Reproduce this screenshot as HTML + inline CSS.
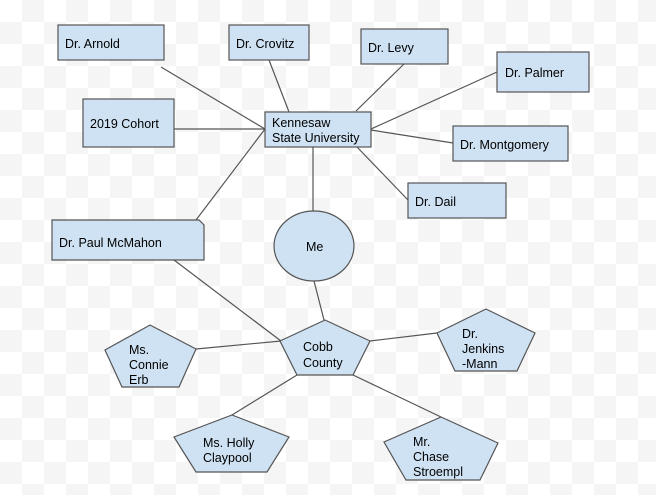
<!DOCTYPE html>
<html><head><meta charset="utf-8"><style>
html,body{margin:0;padding:0;}
body{width:656px;height:495px;overflow:hidden;background-color:#fff;
background-image:linear-gradient(45deg,#f5f5f5 25%,transparent 25%,transparent 75%,#f5f5f5 75%),linear-gradient(45deg,#f5f5f5 25%,transparent 25%,transparent 75%,#f5f5f5 75%);
background-size:44px 44px;background-position:0 0,22px 22px;}
svg{position:absolute;left:0;top:0;}
text{font-family:"Liberation Sans",Arial,sans-serif;font-size:12.5px;fill:#000;}
</style></head><body>
<svg width="656" height="495" viewBox="0 0 656 495">
<g stroke="#555" stroke-width="1.2" fill="none">
<line x1="161" y1="67" x2="265" y2="129"/>
<line x1="269" y1="60" x2="289" y2="112"/>
<line x1="404" y1="64" x2="356" y2="111"/>
<line x1="497" y1="72" x2="371" y2="129"/>
<line x1="174" y1="129" x2="265" y2="129"/>
<line x1="371" y1="130" x2="453" y2="143"/>
<line x1="357" y1="147" x2="408" y2="200"/>
<line x1="196" y1="220" x2="265" y2="129"/>
<line x1="313" y1="147" x2="313" y2="211"/>
<line x1="314" y1="281" x2="324" y2="320"/>
<line x1="174" y1="260" x2="281" y2="341"/>
<line x1="196" y1="349" x2="281" y2="341"/>
<line x1="370" y1="341" x2="437" y2="333"/>
<line x1="297" y1="375" x2="232" y2="415"/>
<line x1="353" y1="375" x2="441" y2="417"/>
</g>
<g fill="#cfe2f3" stroke="#555" stroke-width="1.2">
<rect x="58" y="25" width="106" height="35"/>
<rect x="229" y="25" width="80" height="35"/>
<rect x="361" y="29" width="87" height="35"/>
<rect x="497" y="52" width="92" height="40"/>
<rect x="83" y="99" width="91" height="48"/>
<rect x="265" y="112" width="106" height="35"/>
<rect x="453" y="126" width="115" height="35"/>
<rect x="408" y="183" width="98" height="35"/>
<polygon points="52,220 199,220 204,225 204,260 52,260"/>
<ellipse cx="314" cy="246" rx="40" ry="35"/>
<polygon points="325,320 370,341 353,375 297,375 280,341"/>
<polygon points="150,325 196,349 179,387 122,387 105,350"/>
<polygon points="486,309 535,333 517,371 455,371 437,333"/>
<polygon points="232,415 289,437 267,472 196,472 174,437"/>
<polygon points="441,417 498,443 480,480 406,480 384,442"/>
</g>
<text x="65" y="48">Dr. Arnold</text>
<text x="236" y="48">Dr. Crovitz</text>
<text x="368" y="52">Dr. Levy</text>
<text x="505" y="77">Dr. Palmer</text>
<text x="90" y="128">2019 Cohort</text>
<text x="272" y="127">Kennesaw</text>
<text x="272" y="142">State University</text>
<text x="460" y="149">Dr. Montgomery</text>
<text x="415" y="206">Dr. Dail</text>
<text x="59" y="247">Dr. Paul McMahon</text>
<text x="306" y="251">Me</text>
<text x="303" y="351">Cobb</text>
<text x="303" y="367">County</text>
<text x="129" y="354">Ms.</text>
<text x="129" y="369">Connie</text>
<text x="129" y="384">Erb</text>
<text x="462" y="338">Dr.</text>
<text x="462" y="353">Jenkins</text>
<text x="462" y="368">-Mann</text>
<text x="203" y="447">Ms. Holly</text>
<text x="203" y="462">Claypool</text>
<text x="413" y="446">Mr.</text>
<text x="413" y="461">Chase</text>
<text x="413" y="476">Stroempl</text>
</svg>
</body></html>
